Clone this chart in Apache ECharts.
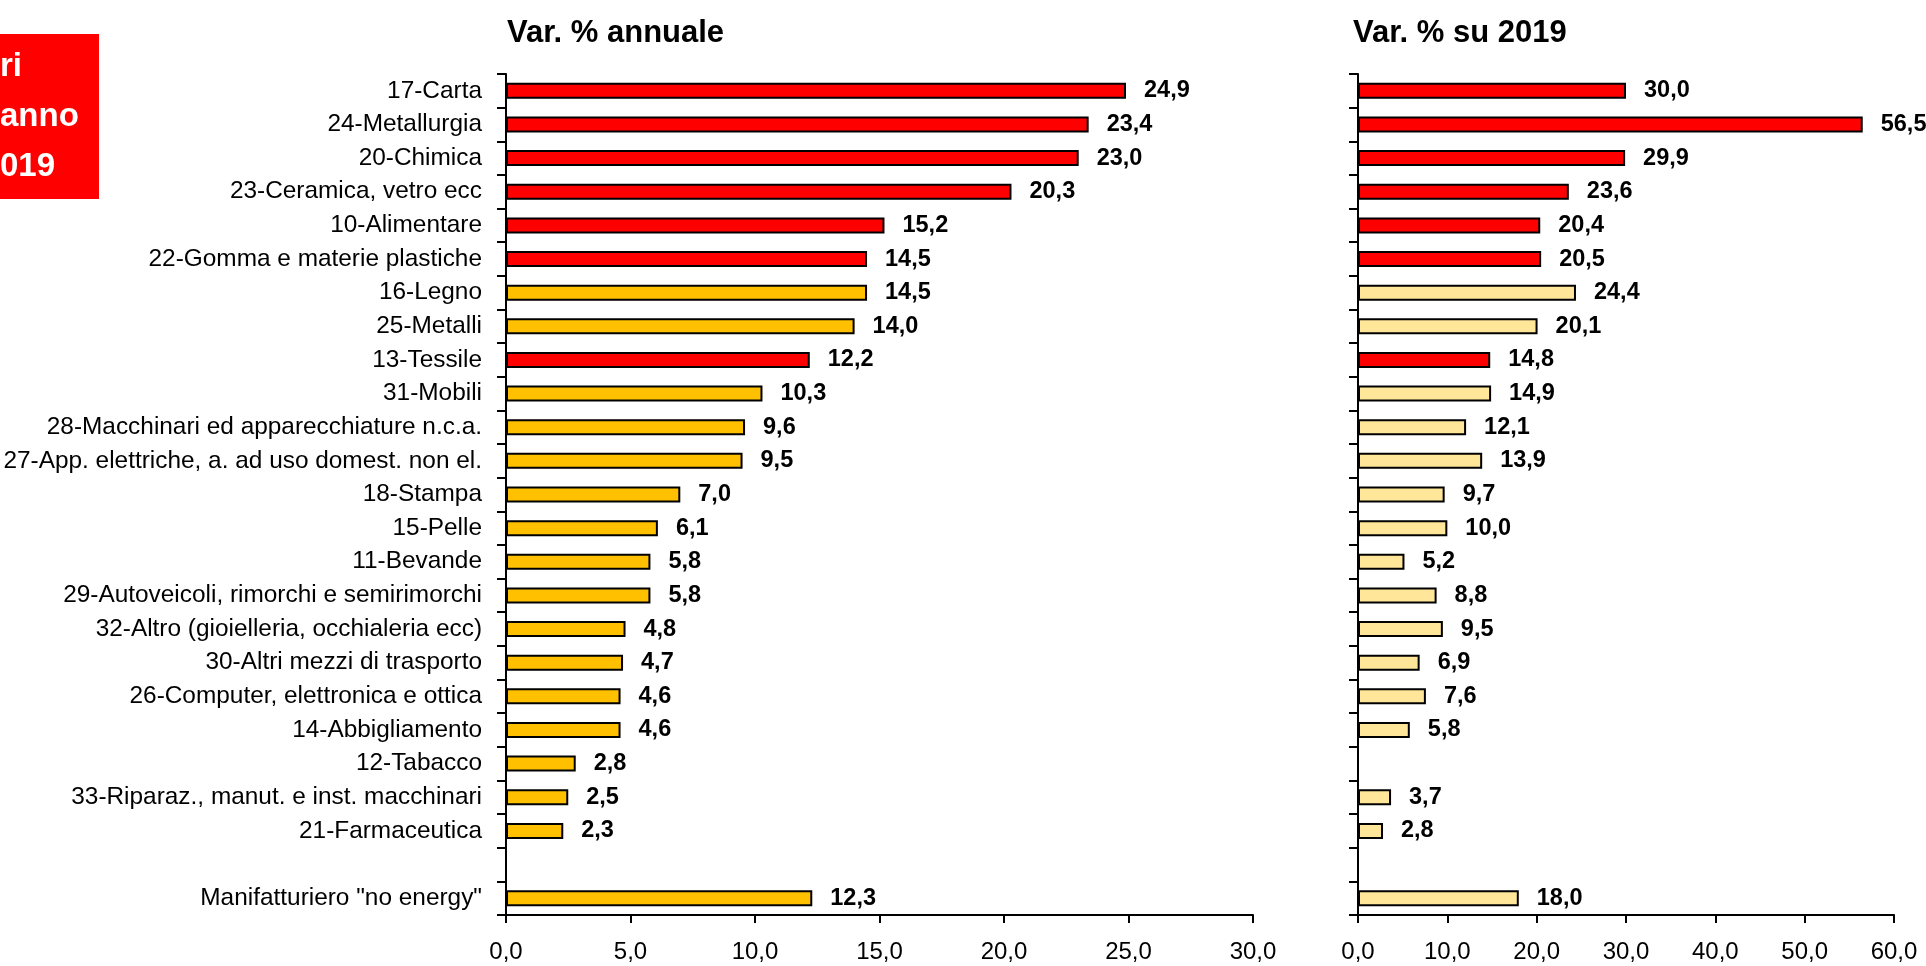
<!DOCTYPE html>
<html><head><meta charset="utf-8">
<script src="https://cdn.jsdelivr.net/npm/echarts@6/dist/echarts.min.js"></script>
<style>html,body{margin:0;padding:0;background:#fff}#chart{width:1926px;height:966px}</style>
</head><body><div id="chart"></div>
<script>
const categories = ['17-Carta', '24-Metallurgia', '20-Chimica', '23-Ceramica, vetro ecc', '10-Alimentare',
  '22-Gomma e materie plastiche', '16-Legno', '25-Metalli', '13-Tessile', '31-Mobili',
  '28-Macchinari ed apparecchiature n.c.a.', '27-App. elettriche, a. ad uso domest. non el.',
  '18-Stampa', '15-Pelle', '11-Bevande', '29-Autoveicoli, rimorchi e semirimorchi',
  '32-Altro (gioielleria, occhialeria ecc)', '30-Altri mezzi di trasporto',
  '26-Computer, elettronica e ottica', '14-Abbigliamento', '12-Tabacco',
  '33-Riparaz., manut. e inst. macchinari', '21-Farmaceutica', '', 'Manifatturiero "no energy"'];
const annualValues = [24.9, 23.4, 23.0, 20.3, 15.2, 14.5, 14.5, 14.0, 12.2, 10.3, 9.6, 9.5, 7.0, 6.1, 5.8, 5.8,
  4.8, 4.7, 4.6, 4.6, 2.8, 2.5, 2.3, null, 12.3];
const vs2019Values = [30.0, 56.5, 29.9, 23.6, 20.4, 20.5, 24.4, 20.1, 14.8, 14.9, 12.1, 13.9, 9.7, 10.0, 5.2, 8.8,
  9.5, 6.9, 7.6, 5.8, null, 3.7, 2.8, null, 18.0];
const highlighted = ['17-Carta', '24-Metallurgia', '20-Chimica', '23-Ceramica, vetro ecc', '10-Alimentare',
  '22-Gomma e materie plastiche', '13-Tessile'];
const annualTicks = [0, 5, 10, 15, 20, 25, 30];
const vs2019Ticks = [0, 10, 20, 30, 40, 50, 60];
const titles = ['Var. % annuale', 'Var. % su 2019'];
const boxLines = ['ri', 'anno', '019'];

const RED = '#FF0000', ORANGE = '#FFC000', LIGHT = '#FFE699';
const FONT = '"Liberation Sans", Arial, sans-serif';
const fmt = v => Number(v).toFixed(1).replace('.', ',');

function seriesData(values, baseColor) {
  return values.map((v, i) => ({
    value: v,
    itemStyle: { color: highlighted.includes(categories[i]) ? RED : baseColor }
  }));
}

const axisLine = { show: true, lineStyle: { color: '#000', width: 2 } };

function valueAxis(gridIndex, ticks) {
  return {
    type: 'value', gridIndex,
    min: ticks[0], max: ticks[ticks.length - 1], interval: ticks[1] - ticks[0],
    axisLine, splitLine: { show: false },
    axisTick: { show: true, length: 8, lineStyle: { color: '#000', width: 2 } },
    axisLabel: { color: '#000', fontFamily: FONT, fontSize: 24, margin: 25, formatter: fmt }
  };
}
function catAxis(gridIndex, showLabels) {
  return {
    type: 'category', gridIndex, data: categories, inverse: true,
    axisLine, boundaryGap: true,
    axisTick: { show: true, length: 9, inside: false, lineStyle: { color: '#000', width: 2 } },
    axisLabel: { show: showLabels, color: '#000', fontFamily: FONT, fontSize: 24.4, margin: 24, interval: 0 }
  };
}
function barSeries(idx, values, baseColor) {
  return {
    type: 'bar', xAxisIndex: idx, yAxisIndex: idx,
    data: seriesData(values, baseColor),
    barWidth: 16,
    itemStyle: { borderColor: '#000', borderWidth: 2 },
    label: { show: true, position: 'right', distance: 18, color: '#000', fontFamily: FONT,
      fontWeight: 'bold', fontSize: 23.5, formatter: p => fmt(p.value) },
    animation: false
  };
}

const chart = echarts.init(document.getElementById('chart'), null, { renderer: 'canvas' });
chart.setOption({
  backgroundColor: '#fff',
  animation: false,
  title: [
    { text: titles[0], left: 502, top: 13, textStyle: { fontFamily: FONT, fontWeight: 'bold', fontSize: 31, color: '#000' } },
    { text: titles[1], left: 1348, top: 13, textStyle: { fontFamily: FONT, fontWeight: 'bold', fontSize: 31, color: '#000' } }
  ],
  grid: [
    { left: 506, right: 673, top: 74, bottom: 51 },
    { left: 1358, right: 32, top: 74, bottom: 51 }
  ],
  xAxis: [valueAxis(0, annualTicks), valueAxis(1, vs2019Ticks)],
  yAxis: [catAxis(0, true), catAxis(1, false)],
  series: [barSeries(0, annualValues, ORANGE), barSeries(1, vs2019Values, LIGHT)],
  graphic: [
    { type: 'rect', left: 0, top: 34, shape: { width: 99, height: 165 }, style: { fill: RED } },
    ...boxLines.map((t, i) => ({
      type: 'text', left: 0, top: 50 + i * 50,
      style: { text: t, fill: '#fff', font: 'bold 33px ' + FONT }
    }))
  ]
});
</script></body></html>
